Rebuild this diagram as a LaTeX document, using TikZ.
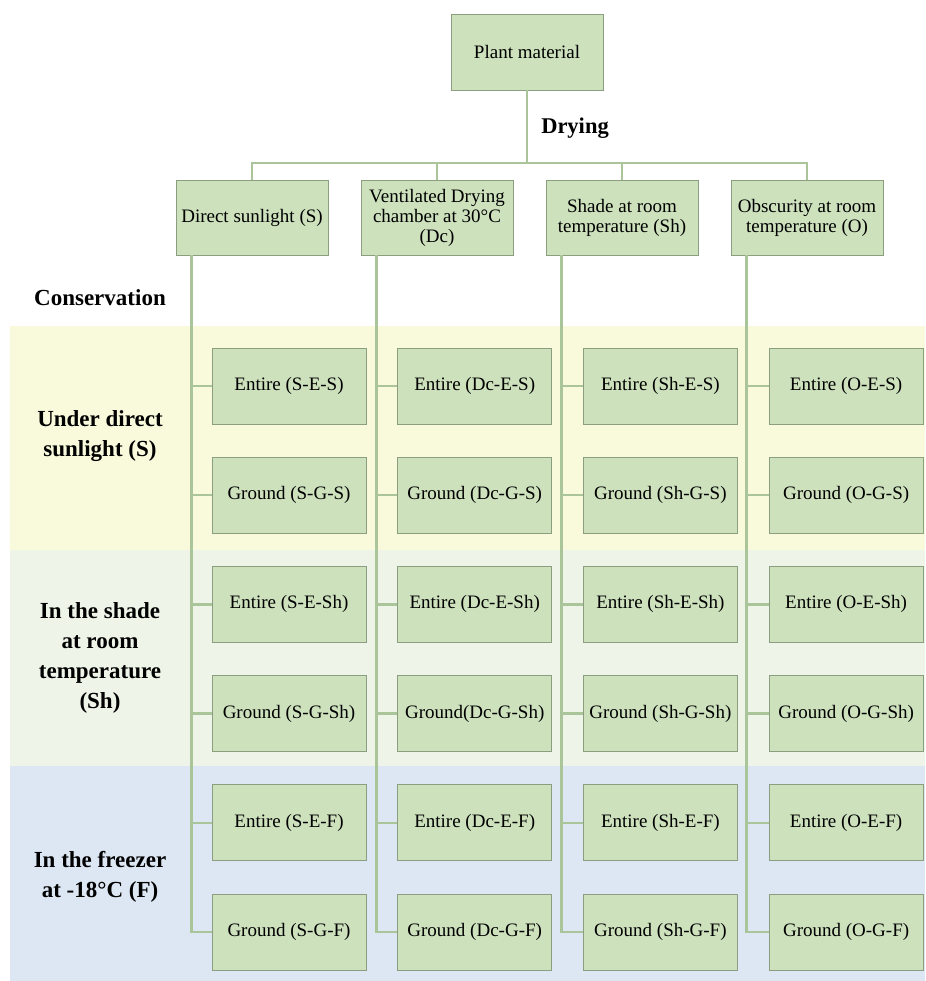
\documentclass[tikz,border=0pt]{standalone}
\usepackage{fontspec}
\setmainfont{Liberation Serif}
\usepackage{tikz}
\usetikzlibrary{calc}
\definecolor{boxfill}{RGB}{205,225,189}
\definecolor{boxline}{RGB}{140,158,128}
\definecolor{linkgreen}{RGB}{170,197,153}
\definecolor{bandyellow}{RGB}{248,250,219}
\definecolor{bandgreen}{RGB}{238,244,232}
\definecolor{bandblue}{RGB}{221,231,243}

\begin{document}
\begin{tikzpicture}[x=1pt, y=-1pt,
    stagebox/.style={draw=boxline, line width=0.8pt, fill=boxfill, minimum width=152pt, minimum height=76pt, inner sep=1pt, align=center, font=\fontsize{19}{20}\selectfont},
    leafbox/.style={stagebox, minimum width=154pt},
    link/.style={draw=linkgreen, line width=2.5pt},
    heading/.style={font=\fontsize{23}{30}\selectfont\bfseries, align=center}]
                \useasboundingbox (0,0) rectangle (925,981);

                % Conservation bands
                \fill[bandyellow] (10,326) rectangle (925,550);
                \fill[bandgreen] (10,550) rectangle (925,766);
                \fill[bandblue] (10,766) rectangle (925,981);

                % Band labels
                \node[heading] (conservation) at (100,298) {Conservation};
                \node[heading] (condS) at (100,436) {Under direct\\sunlight (S)};
                \node[heading] (condSh) at (100,658) {In the shade\\at room\\temperature\\(Sh)};
                \node[heading] (condF) at (100,877) {In the freezer\\at -18\textdegree C (F)};

                % Plant material
                \node[stagebox] (plant) at (527,52) {Plant material};
                \node[heading, font=\fontsize{22.5}{30}\selectfont\bfseries] (drying) at (575,128) {Drying};
                \coordinate (bus) at (527,163);
                \draw[link] (plant) -- (bus);

                % Drying methods and their samples
                \foreach \code/\txt [count=\i] in {S/{Direct sunlight (S)}, Dc/{Ventilated Drying\\chamber at 30\textdegree C\\(Dc)}, Sh/{Shade at room\\temperature (Sh)}, O/{Obscurity at room\\temperature (O)}} {
                    \node[stagebox, minimum height=75pt] (d\code) at ({252+(\i-1)*185},217.5) {\txt};
                    \draw[link] (bus) -| (d\code.north);
                    \coordinate (t\code) at ([xshift=16pt]d\code.south west);
                    \foreach \row/\kind/\cond [count=\j] in {E/Entire/S, G/Ground/S, E/Entire/Sh, G/Ground/Sh, E/Entire/F, G/Ground/F} {
                        \node[leafbox] (\code\row\cond) at ({289+(\i-1)*185.7},{386+(\j-1)*109.2})
                            {\ifnum\i\j=24 Ground(Dc-G-Sh)\else\kind\ (\code-\row-\cond)\fi};
                        \draw[link] (t\code) |- (\code\row\cond.west);
                    }
                }
            \end{tikzpicture}
\end{document}
